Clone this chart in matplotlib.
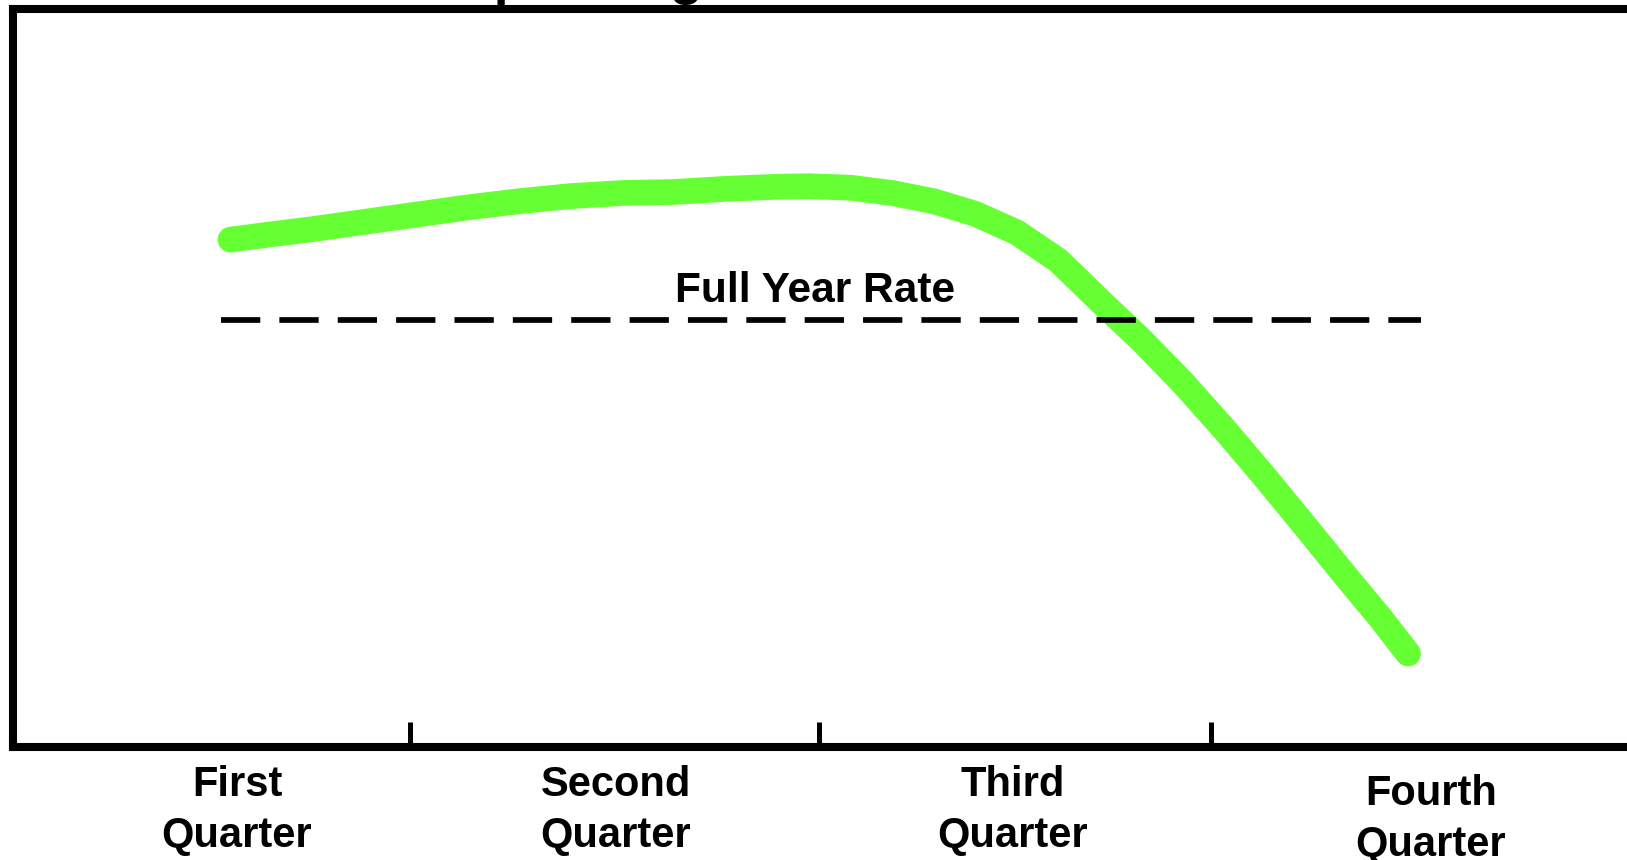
import matplotlib
matplotlib.use('Agg')
import matplotlib.pyplot as plt

plt.rcParams['font.family'] = ['Liberation Sans', 'DejaVu Sans']

# spending rate through the year (x in quarters, y in % of peak scale)
time_q = [0.532, 0.628, 0.730, 0.857, 0.984, 1.111, 1.237, 1.364, 1.491, 1.618,
          1.745, 1.872, 1.948, 2.050, 2.151, 2.253, 2.354, 2.456, 2.557, 2.659,
          2.710, 2.761, 2.862, 2.964, 3.065, 3.167, 3.268, 3.344, 3.413]
rate = [68.75, 69.45, 70.15, 71.14, 72.12, 73.11, 73.95, 74.65, 75.07, 75.21,
        75.64, 75.92, 75.99, 75.78, 75.07, 73.95, 72.26, 69.73, 65.94, 60.46,
        57.78, 55.11, 49.35, 43.02, 36.42, 29.53, 22.64, 17.58, 12.66]

full_year_rate = 57.8
full_year_span = [0.509, 3.445]

quarter_edges = [0.971, 1.973, 2.932]
quarter_names = ['First\nQuarter', 'Second\nQuarter', 'Third\nQuarter', 'Fourth\nQuarter']
quarter_pos = [0.548, 1.475, 2.446, 3.469]

fig = plt.figure(figsize=(16.27, 8.6), dpi=100)
ax = fig.add_axes([0.008, 0.1314, 1.0049, 0.8581])

ax.plot(time_q, rate, color='#66FF33', linewidth=18.5, solid_capstyle='round',
        solid_joinstyle='round')
ax.plot(full_year_span, [full_year_rate, full_year_rate], color='black',
        linewidth=4.1, dashes=(6.9, 3.35))
ax.text(1.962, 60.3, 'Full Year Rate', fontsize=30.5, fontweight='bold',
        ha='center', va='baseline')

ax.set_xlim(0, 4)
ax.set_ylim(0, 100)
ax.set_yticks([])
ax.set_xticks(quarter_edges)
ax.set_xticklabels([])
ax.tick_params(axis='x', direction='in', length=18, width=3.6, color='black')

for name, x in zip(quarter_names, quarter_pos):
    y = -3.6 if name.startswith('Fourth') else -2.4
    ax.text(x, y, name, fontsize=30, fontweight='bold', ha='center', va='top',
            linespacing=1.36)

for side in ['left', 'right', 'top', 'bottom']:
    ax.spines[side].set_linewidth(5.8)
    ax.spines[side].set_color('black')

# title sits mostly above the frame
fig.text(0.2815, 1.007, 'Spending', fontsize=38.6, fontweight='bold',
         ha='left', va='baseline')

plt.savefig('out.png', dpi=100)
